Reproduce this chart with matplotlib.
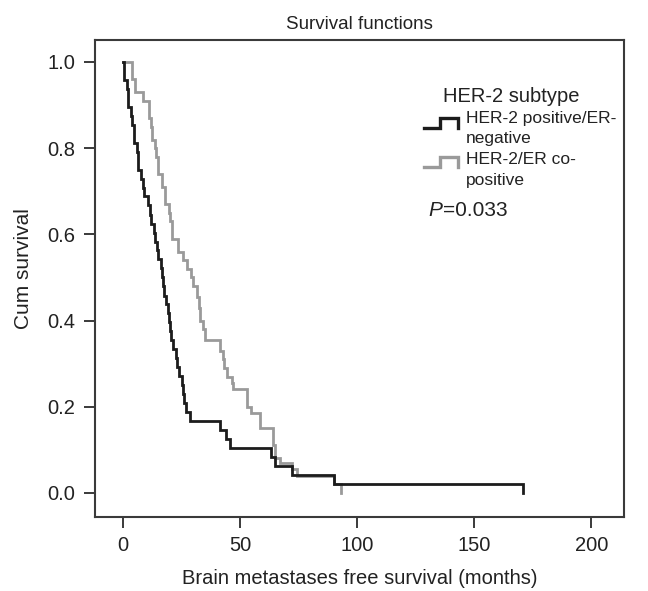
import matplotlib
matplotlib.use("Agg")
import matplotlib.pyplot as plt
from matplotlib.lines import Line2D

plt.rcParams['font.family'] = ['Liberation Sans', 'DejaVu Sans']

# HER-2 positive / ER-negative (black)
neg_t = [0, 0.5, 1.5, 2.0, 3.5, 4.0, 4.5, 6.0, 6.5, 7.5, 8.5, 9.0, 10.5, 11.5, 12.0, 13.0,
         13.5, 14.5, 15.0, 16.0, 16.5, 17.0, 17.5, 18.5, 19.0, 19.5, 20.0, 20.5, 21.5, 22.5,
         23.0, 24.0, 25.0, 25.5, 26.0, 27.0, 28.5, 41.5, 44.0, 45.5, 63.0, 65.0, 72.0, 90.0, 171.0]
neg_s = [1.0, 0.958, 0.938, 0.896, 0.875, 0.854, 0.813, 0.792, 0.750, 0.729, 0.708, 0.688,
         0.667, 0.646, 0.625, 0.604, 0.583, 0.563, 0.542, 0.521, 0.500, 0.479, 0.458, 0.438,
         0.417, 0.396, 0.375, 0.354, 0.333, 0.313, 0.292, 0.271, 0.250, 0.229, 0.208, 0.188,
         0.167, 0.146, 0.125, 0.104, 0.083, 0.0625, 0.042, 0.021, 0.0]

# HER-2 / ER co-positive (gray)
pos_t = [0, 3.8, 5.0, 8.5, 11.0, 12.0, 12.5, 13.5, 14.0, 15.0, 16.5, 18.0, 19.5, 20.0, 21.0,
         23.5, 25.5, 27.5, 29.0, 30.0, 31.5, 32.5, 33.0, 34.0, 35.0, 41.5, 42.5, 43.0, 44.5,
         46.5, 47.0, 53.0, 54.5, 58.5, 64.0, 65.0, 67.0, 72.0, 74.5, 90.0, 93.0]
pos_s = [1.0, 0.96, 0.93, 0.91, 0.87, 0.85, 0.82, 0.80, 0.78, 0.74, 0.71, 0.67, 0.65, 0.63,
         0.59, 0.56, 0.54, 0.52, 0.50, 0.48, 0.455, 0.43, 0.40, 0.38, 0.355, 0.33, 0.31, 0.29,
         0.27, 0.255, 0.24, 0.20, 0.185, 0.15, 0.11, 0.08, 0.07, 0.055, 0.04, 0.02, 0.0]

x_ticks = [0, 50, 100, 150, 200]
y_ticks = [0.0, 0.2, 0.4, 0.6, 0.8, 1.0]

BLACK = '#1c1c1c'
GRAY = '#9a9a9a'
FRAME = '#3a3a3a'
TXT = '#222222'

fig = plt.figure(figsize=(6.48, 5.91), dpi=100)
ax = fig.add_axes([95/648, 1-517/591, (624-95)/648, (517-40)/591])

ax.step(pos_t, pos_s, where='post', color=GRAY, lw=2.0, solid_joinstyle='miter')
ax.step(neg_t, neg_s, where='post', color=BLACK, lw=2.0, solid_joinstyle='miter')

ax.set_xlim(-12, 214)
ax.set_ylim(-0.056, 1.051)
ax.set_xticks(x_ticks)
ax.set_yticks(y_ticks)
ax.set_yticklabels([f"{v:.1f}" for v in y_ticks])
for s in ax.spines.values():
    s.set_color(FRAME)
    s.set_linewidth(1.5)
ax.tick_params(direction='out', length=8, width=1.4, color=FRAME, labelsize=14.5,
               labelcolor=TXT, pad=6)

ax.set_xlabel('Brain metastases free survival (months)', fontsize=14.5, color=TXT, labelpad=10)
ax.set_ylabel('Cum survival', fontsize=15, color=TXT)
ax.yaxis.set_label_coords(-0.118, 0.52)
ax.set_title('Survival functions', fontsize=13.5, color=TXT, pad=8)

def fx(px):
    return (px - 95) / 529

def fy(py):
    return (517 - py) / 477

ax.text(fx(443), fy(97), 'HER-2 subtype', transform=ax.transAxes, fontsize=14.5,
        color=TXT, va='center', ha='left')

for col, ylo, yhi in [(BLACK, 128, 118), (GRAY, 167, 157)]:
    ax.add_line(Line2D([fx(424), fx(440), fx(440), fx(458), fx(458)],
                       [fy(ylo), fy(ylo), fy(yhi), fy(yhi), fy(ylo)],
                       transform=ax.transAxes, color=col, lw=2.4, solid_joinstyle='miter'))

for txt, py in [('HER-2 positive/ER-', 119), ('negative', 139),
                ('HER-2/ER co-', 160), ('positive', 180)]:
    ax.text(fx(466), fy(py), txt, transform=ax.transAxes, fontsize=12.5,
            color=TXT, va='center', ha='left')

tp = ax.text(fx(428), fy(210), 'P', transform=ax.transAxes, fontsize=15,
             color=TXT, va='center', ha='left', style='italic')
ax.annotate('=0.033', xycoords=tp, xy=(1, 0.5), xytext=(1, 0), textcoords='offset points',
            fontsize=15, color=TXT, va='center', ha='left')

fig.savefig('out.png', dpi=100)
